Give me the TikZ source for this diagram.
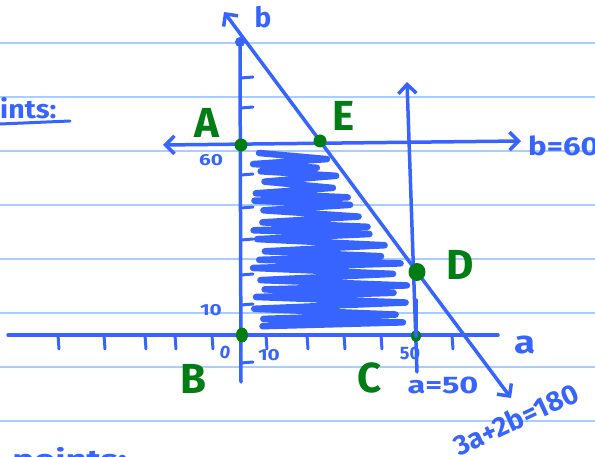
\documentclass[tikz,border=0pt]{standalone}
\usepackage{fontspec}
\setmainfont{Fira Sans}
\usetikzlibrary{arrows.meta}
\definecolor{pen}{RGB}{55,100,255}
\definecolor{grn}{RGB}{0,125,20}
\definecolor{rulecol}{RGB}{170,205,255}
\begin{document}
\begin{tikzpicture}[x=1pt,y=-1pt,
  penline/.style={draw=pen, line width=3.5pt, line cap=round, line join=round},
  barb/.style={-{Straight Barb[length=9pt 0 0, width=18pt 0 0]}},
  barbs/.style={{Straight Barb[length=9pt 0 0, width=18pt 0 0]}-{Straight Barb[length=9pt 0 0, width=18pt 0 0]}},
  ruleline/.style={draw=rulecol, line width=1.6pt},
  tick/.style={draw=pen, line width=3pt, line cap=round},
  scrib/.style={draw=pen, line width=6.5pt, line cap=round, line join=round},
  ptlbl/.style={text=grn, inner sep=0pt, font=\fontsize{42}{42}\selectfont\bfseries},
  bluetxt/.style={text=pen, inner sep=0pt},
  dot/.style={fill=grn}]
\useasboundingbox (0,0) rectangle (595,457);
% ruled paper
\foreach \yy in {43,97,151,205,259,313,367,421}
  \draw[ruleline] (0,\yy) -- (595,\yy);
% key coordinates
\coordinate (bbot) at (241,382);
\coordinate (btop) at (240,42);
\coordinate (aleft) at (8,335);
\coordinate (aright) at (498,335);
\coordinate (hL) at (163,145);
\coordinate (hR) at (521,141);
\coordinate (vT) at (407,82);
\coordinate (vB) at (417,372);
\coordinate (dT) at (224,12);
\coordinate (dB) at (511,398);
\coordinate (A) at (241,145);
\coordinate (B) at (242,335);
\coordinate (C) at (416,336);
\coordinate (D) at (417,272);
\coordinate (E) at (320,141);
% shading scribble
\draw[scrib] plot[variable=\t, samples=37, domain=0:36]
  ({(259+6*sin(\t*131)) + mod(round(\t),2)*(min(320+max(0,150+\t*4.9-160)*0.72,400)+7*sin(\t*97)-259-6*sin(\t*131))},
   {153+\t*4.85+1.5*sin(\t*57)});
% axes
\draw[penline] (bbot) -- (btop);
\fill[pen] (btop) circle (5);
\draw[penline] (aleft) -- (aright);
% ticks on a-axis
\foreach \xx in {58,104,145,175,212,266,307,344,381,452}
  \draw[tick] (\xx,335) -- (\xx+1,349);
% ticks on b-axis
\foreach \yy in {78,108,175,208,240,275,305,363}
  \draw[tick] (241,\yy) -- (253,\yy-1);
% constraint lines
\draw[penline, barbs] (hL) -- (hR);
\draw[penline, barb] (vB) -- (vT);
\draw[penline, barbs] (dT) -- (E) -- (D) -- (dB);
% axis labels
\node[bluetxt, font=\fontsize{28}{28}\selectfont\bfseries] (lb) at (263,17) {b};
\node[bluetxt, font=\fontsize{32}{32}\selectfont\bfseries, xscale=1.2] (la) at (525,345) {a};
\node[bluetxt, font=\fontsize{16}{16}\selectfont\bfseries, xscale=1.3] (l60) at (211,160) {60};
\node[bluetxt, font=\fontsize{16}{16}\selectfont\bfseries, xscale=1.3] (l10b) at (211,310) {10};
\node[bluetxt, font=\fontsize{18}{18}\selectfont\bfseries, rotate=-10] (l0) at (225,352) {0};
\node[bluetxt, font=\fontsize{16}{16}\selectfont\bfseries, xscale=1.3] (l10a) at (269,355) {10};
\node[bluetxt, font=\fontsize{18}{18}\selectfont\bfseries] (l50) at (410,353) {50};
\node[bluetxt, font=\fontsize{24}{24}\selectfont\bfseries, xscale=1.35] (la50) at (443,385) {a=50};
\node[bluetxt, font=\fontsize{26}{26}\selectfont\bfseries, anchor=west, xscale=1.2] (lb60) at (528,146) {b=60};
\node[bluetxt, font=\fontsize{28}{28}\selectfont\bfseries, rotate=25] (leq) at (516,419) {3a+2b=180};
\node[bluetxt, font=\fontsize{26}{26}\selectfont\bfseries, anchor=base west, xscale=1.1] (lints) at (0,119) {ints:};
\coordinate (ul1) at (0,124);
\coordinate (ul2) at (70,121);
\draw[pen, line width=3pt, line cap=round] (ul1) -- (ul2);
\node[bluetxt, font=\fontsize{26}{26}\selectfont\bfseries, anchor=base west, xscale=1.4] (lpts) at (12,468) {points:};
% corner points
\fill[dot] (A) circle (6.5);
\fill[dot] (E) circle (6.5);
\fill[dot] (D) ellipse (8.5 and 9);
\fill[dot] (B) ellipse (6 and 7.5);
\fill[dot] (C) ellipse (5 and 6);
\coordinate (vC) at (416,300);
\draw[penline] (vC) -- (C);
\node[ptlbl] (nA) at (207,123) {A};
\node[ptlbl] (nE) at (344,116) {E};
\node[ptlbl] (nD) at (460,265) {D};
\node[ptlbl] (nB) at (193,379) {B};
\node[ptlbl] (nC) at (370,378) {C};
\end{tikzpicture}
\end{document}
